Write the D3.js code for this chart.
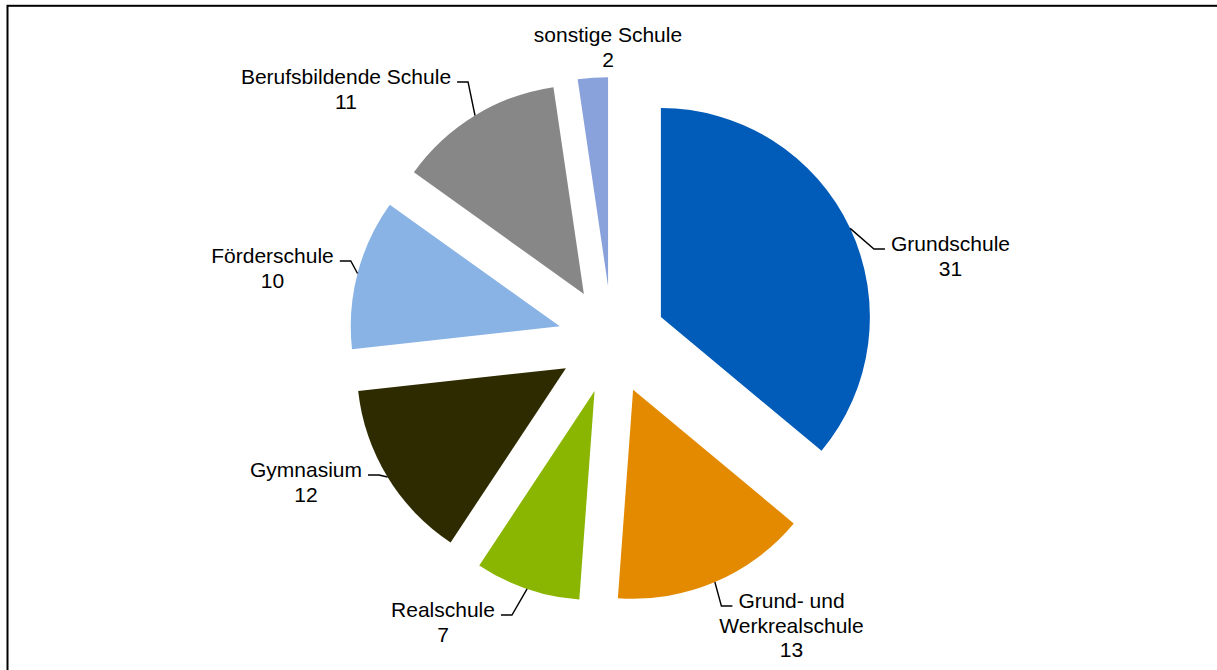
<!DOCTYPE html>
<html>
<head>
<meta charset="utf-8">
<script src="https://cdn.jsdelivr.net/npm/d3@7"></script>
<style>
  html, body { margin: 0; padding: 0; background: #fff; overflow: hidden; }
  text { font-family: "Liberation Sans", Arial, sans-serif; font-size: 21px; fill: #000; }
</style>
</head>
<body>
<svg id="chart" width="1217" height="670"></svg>
<script>
// Schools by type (clockwise from 12 o'clock)
const categories = ["Grundschule", "Grund- und Werkrealschule", "Realschule", "Gymnasium",
                    "Förderschule", "Berufsbildende Schule", "sonstige Schule"];
const values = [31, 13, 7, 12, 10, 11, 2];
// label text broken into lines (category name lines, value goes below)
const labelLines = [["Grundschule"], ["Grund- und", "Werkrealschule"], ["Realschule"], ["Gymnasium"],
                    ["Förderschule"], ["Berufsbildende Schule"], ["sonstige Schule"]];
const colors = ["#005cb8", "#e38a00", "#8ab500", "#2e2b00", "#89b3e4", "#878787", "#8aa2dc"];

// layout: label centre x and first baseline y, and whether a leader line is drawn
const labelPos = [[950.5, 251], [791.5, 608], [443, 617], [306, 477], [272.5, 263], [346, 84], [608, 42]];
const hasLeader = [true, true, true, true, true, true, false];

const width = 1217, height = 670;
const cx = 612, cy = 340, radius = 209, explode = 54;
const lineHeight = 24.5;

const svg = d3.select("#chart");

// chart frame
svg.append("rect")
  .attr("x", 7.5).attr("y", 5.8)
  .attr("width", 1400).attr("height", 1000)
  .attr("fill", "none").attr("stroke", "#000").attr("stroke-width", 2);

const data = categories.map((c, i) => ({ name: c, value: values[i], color: colors[i], lines: labelLines[i], pos: labelPos[i], leader: hasLeader[i] }));

const pie = d3.pie().value(d => d.value).sort(null).startAngle(0).endAngle(2 * Math.PI);
const arcs = pie(data);
const arc = d3.arc().innerRadius(0).outerRadius(radius);

const g = svg.append("g").attr("transform", `translate(${cx},${cy})`);

function offset(a, dist) {
  const mid = (a.startAngle + a.endAngle) / 2;
  return [Math.sin(mid) * dist, -Math.cos(mid) * dist];
}

g.selectAll("path.slice")
  .data(arcs)
  .join("path")
  .attr("class", "slice")
  .attr("d", arc)
  .attr("fill", d => d.data.color)
  .attr("transform", d => {
    const [ox, oy] = offset(d, explode);
    return `translate(${ox},${oy})`;
  });

// data labels: name lines, then value
const labels = svg.append("g");
arcs.forEach(a => {
  const d = a.data;
  const t = labels.append("text")
    .attr("text-anchor", "middle")
    .attr("x", d.pos[0]).attr("y", d.pos[1]);
  const all = d.lines.concat([String(d.value)]);
  all.forEach((ln, k) => {
    t.append("tspan").attr("x", d.pos[0]).attr("y", d.pos[1] + k * lineHeight).text(ln);
  });

  if (!d.leader) return;
  // leader from outer edge at mid-angle to first label line
  const [ox, oy] = offset(a, explode);
  const [px, py] = offset(a, radius);
  const sx = cx + ox + px, sy = cy + oy + py;
  const firstWidth = t.select("tspan").node().getComputedTextLength();
  const yL = d.pos[1] - 2;
  let edgeX, elbowX;
  if (d.pos[0] < sx) {
    edgeX = d.pos[0] + firstWidth / 2 + 6;
    elbowX = edgeX + 11;
  } else {
    edgeX = d.pos[0] - firstWidth / 2 - 6;
    elbowX = edgeX - 11;
  }
  svg.append("polyline")
    .attr("points", [[sx, sy], [elbowX, yL], [edgeX, yL]].map(p => p.join(",")).join(" "))
    .attr("fill", "none").attr("stroke", "#000").attr("stroke-width", 1.4);
});
</script>
</body>
</html>
